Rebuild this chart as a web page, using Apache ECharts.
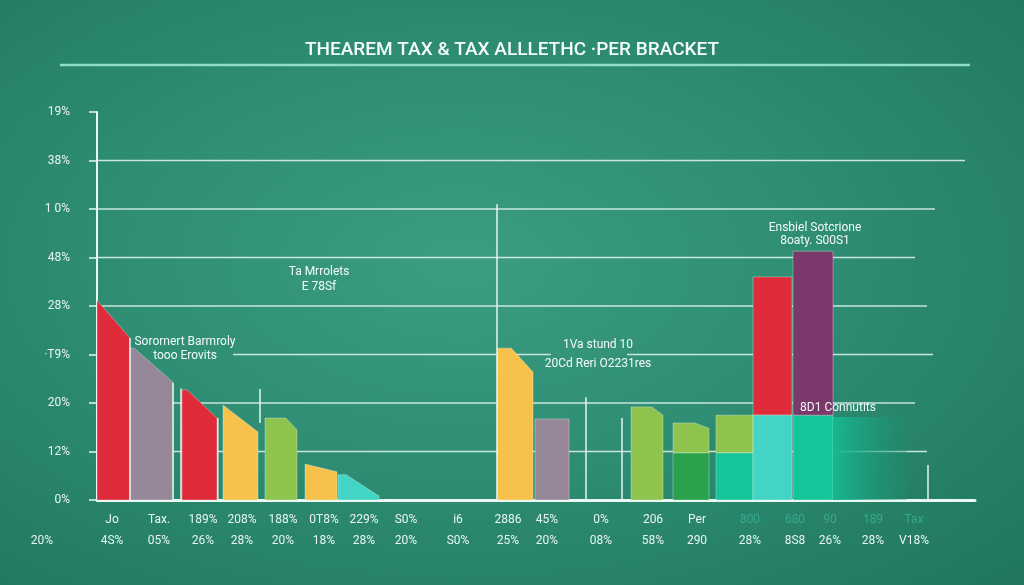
<!DOCTYPE html>
<html>
<head>
<meta charset="utf-8">
<script src="https://cdn.jsdelivr.net/npm/echarts@6/dist/echarts.min.js"></script>
<style>
html, body { margin: 0; padding: 0; }
#chart {
    width: 1024px;
    height: 585px;
    background: radial-gradient(ellipse at 45% 45%, #3c9d83 0%, #2e8d73 45%, #1f765d 100%);
}
</style>
</head>
<body>
<div id="chart"></div>
<script>
// bar tuples: [xStart, xEnd, base, topLeft, topRight, knee]
var redBars = [[0, 0.825, 0, 4.12, 3.34, 0], [2.125, 3.0, 0, 2.27, 1.69, 0.15], [16.4, 17.375, 1.75, 4.6, 4.6, 0]];
var mauveBars = [[0.825, 1.9, 0, 3.13, 2.43, 0.1], [10.95, 11.8, 0, 1.67, 1.67, 0]];
var yellowBars = [[3.15, 4.025, 0, 1.96, 1.4, 0], [5.2, 6.0, 0, 0.74, 0.58, 0], [10.0, 10.9, 0, 3.13, 2.64, 0.4]];
var limeBars = [[4.2, 5.0, 0, 1.69, 1.45, 0.65], [13.35, 14.15, 0, 1.92, 1.75, 0.65], [14.4, 15.3, 0.97, 1.59, 1.48, 0.6], [15.475, 16.4, 0.97, 1.75, 1.75, 0]];
var greenBars = [[14.4, 15.3, 0, 0.97, 0.97, 0]];
var tealBars = [[15.475, 16.4, 0, 0.97, 0.97, 0], [17.4, 18.4, 0, 1.75, 1.75, 0]];
var aquaBars = [[6.025, 7.05, 0, 0.52, 0.08, 0.2], [16.4, 17.375, 0, 1.75, 1.75, 0]];
var plumBars = [[17.4, 18.4, 1.75, 5.13, 5.13, 0]];
var fadeBars = [[18.4, 20.25, 0, 1.71, 1.71, 0]];

// thin vertical guides: [x, bottom, top]
var guides = [[0.825, 0, 3.34], [1.9, 0, 2.41], [2.1, 0, 2.3], [3.02, 0, 1.69], [4.075, 1.59, 2.29], [10.0, 0, 6.1], [12.225, 0, 2.12], [13.125, 0, 1.69], [20.775, 0, 0.72]];

// horizontal rules: [level, from, to]
var rules = [[1, 0, 20.75], [2, 0, 20.45], [3, 0, 0.85], [3, 3.4, 11.35], [3, 13.25, 20.9], [4, 0, 20.75], [5, 0, 20.45], [6, 0, 20.95], [7, 0, 21.7]];

var yTickLabels = ['0%', '12%', '20%', '·T9%', '28%', '48%', '1 0%', '38%', '19%'];

var labelX = [0.375, 1.55, 2.65, 3.625, 4.65, 5.675, 6.675, 7.725, 9.025, 10.275, 11.25, 12.6, 13.9, 15.0, 16.325, 17.45, 18.325, 19.4, 20.425];
var labelTop = ['Jo', 'Tax.', '189%', '208%', '188%', '0T8%', '229%', 'S0%', 'i6', '2886', '45%', '0%', '206', 'Per', '800', '680', '90', '189', 'Tax'];
var labelBottom = ['4S%', '05%', '26%', '28%', '20%', '18%', '28%', '20%', 'S0%', '25%', '20%', '08%', '58%', '290', '28%', '8S8', '26%', '28%', 'V18%'];
var fadeFrom = 14;

var noteX = [5.55, 2.2, 12.525, 17.95, 18.525];
var noteY = [4.54, 3.12, 3.0, 5.47, 1.9];
var noteText = ['Ta Mrrolets\nE 78Sf', 'Sorornert Barmroly\ntooo Erovits', '1Va stund 10\n20Cd Reri O2231res', 'Ensbiel Sotcrione\n8oaty. S00S1', '8D1 Connutits'];
var noteGap = [15, 14, 19, 13, 14];

var chart = echarts.init(document.getElementById('chart'));

function drawBar(params, api) {
    var x0 = api.value(0), x1 = api.value(1), b = api.value(2);
    var tl = api.value(3), tr = api.value(4), k = api.value(5);
    var xk = x0 + (x1 - x0) * k;
    var pts = [[x0, b], [x0, tl], [xk, tl], [x1, tr], [x1, b]].map(function (p) { return api.coord(p); });
    return {
        type: 'polygon',
        shape: { points: pts },
        style: { fill: api.visual('color'), stroke: 'rgba(230,248,242,0.35)', lineWidth: 1 }
    };
}

function barSeries(name, data, color) {
    return {
        name: name,
        type: 'custom',
        renderItem: drawBar,
        data: data,
        encode: { x: [0, 1], y: [3] },
        itemStyle: { color: color },
        silent: true
    };
}

var textColor = '#e9f5f0';

var fade = barSeries('fade', fadeBars, new echarts.graphic.LinearGradient(0, 0, 1, 0, [
    { offset: 0, color: '#18b892' },
    { offset: 1, color: 'rgba(30,140,110,0.3)' }
]));
fade.renderItem = function (params, api) {
    var el = drawBar(params, api);
    el.style.stroke = null;
    return el;
};

var option = {
    animation: false,
    title: {
        text: 'THEAREM TAX & TAX ALLLETHC ·PER BRACKET',
        left: 'center',
        top: 36,
        textStyle: { color: '#f4fbf8', fontSize: 19, fontWeight: 500, fontFamily: 'Roboto' }
    },
    graphic: [{
        type: 'line',
        shape: { x1: 60, y1: 65, x2: 970, y2: 65 },
        style: { stroke: '#8fdcc8', lineWidth: 2.5 }
    }],
    grid: { left: 97, right: 49, top: 112, bottom: 85, outerBoundsMode: 'none' },
    xAxis: {
        type: 'value',
        min: 0,
        max: 21.95,
        axisLine: { show: true, lineStyle: { color: '#e8f7f1', width: 3 } },
        axisTick: { show: false },
        axisLabel: { show: false },
        splitLine: { show: false }
    },
    yAxis: {
        type: 'value',
        min: 0,
        max: 8,
        interval: 1,
        axisLine: { show: true, lineStyle: { color: '#e8f7f1', width: 2 } },
        axisTick: { show: true, length: 8, lineStyle: { color: '#e8f7f1', width: 1.5 } },
        axisLabel: {
            color: textColor,
            fontSize: 12,
            fontFamily: 'Roboto',
            margin: 27,
            formatter: function (v) { return yTickLabels[v]; }
        },
        splitLine: { show: false }
    },
    series: [
        {
            type: 'custom',
            silent: true,
            data: rules,
            encode: { x: [1, 2], y: [0] },
            renderItem: function (params, api) {
                var a = api.coord([api.value(1), api.value(0)]);
                var b = api.coord([api.value(2), api.value(0)]);
                return {
                    type: 'line',
                    shape: { x1: a[0], y1: a[1], x2: b[0], y2: b[1] },
                    style: { stroke: 'rgba(228,246,240,0.85)', lineWidth: 1.6 }
                };
            }
        },
        barSeries('red', redBars, '#df2b3a'),
        barSeries('mauve', mauveBars, '#978899'),
        barSeries('yellow', yellowBars, '#f6c24c'),
        barSeries('lime', limeBars, '#8ec44e'),
        barSeries('green', greenBars, '#2aa24c'),
        barSeries('teal', tealBars, '#16c49b'),
        barSeries('aqua', aquaBars, '#42d5c6'),
        barSeries('plum', plumBars, '#7b386b'),
        fade,
        {
            type: 'custom',
            silent: true,
            data: guides,
            encode: { x: [0], y: [1, 2] },
            renderItem: function (params, api) {
                var a = api.coord([api.value(0), api.value(1)]);
                var b = api.coord([api.value(0), api.value(2)]);
                return {
                    type: 'line',
                    shape: { x1: a[0], y1: a[1], x2: b[0], y2: b[1] },
                    style: { stroke: 'rgba(235,250,245,0.9)', lineWidth: 1.6 }
                };
            }
        },
        {
            type: 'custom',
            silent: true,
            clip: false,
            data: labelX.map(function (x, i) { return [x, i]; }),
            encode: { x: [0], y: [1] },
            renderItem: function (params, api) {
                var i = params.dataIndex;
                var p = api.coord([api.value(0), 0]);
                var faded = i >= fadeFrom;
                return {
                    type: 'group',
                    children: [{
                        type: 'text',
                        x: p[0], y: p[1] + 20,
                        style: {
                            text: labelTop[i], fill: faded ? 'rgba(70,200,168,0.55)' : textColor,
                            font: '12px Roboto', align: 'center', verticalAlign: 'middle',
                            textAlign: 'center', textVerticalAlign: 'middle'
                        }
                    }, {
                        type: 'text',
                        x: p[0], y: p[1] + 41,
                        style: {
                            text: labelBottom[i], fill: textColor,
                            font: '12px Roboto', align: 'center', verticalAlign: 'middle',
                            textAlign: 'center', textVerticalAlign: 'middle'
                        }
                    }]
                };
            }
        },
        {
            type: 'custom',
            silent: true,
            clip: false,
            data: [[-1.375, 0]],
            encode: { x: [0], y: [1] },
            renderItem: function (params, api) {
                var p = api.coord([api.value(0), 0]);
                return {
                    type: 'text',
                    x: p[0], y: p[1] + 41,
                    style: {
                        text: '20%', fill: textColor, font: '12px Roboto',
                        align: 'center', verticalAlign: 'middle',
                        textAlign: 'center', textVerticalAlign: 'middle'
                    }
                };
            }
        },
        {
            type: 'custom',
            silent: true,
            clip: false,
            data: noteX.map(function (x, i) { return [x, noteY[i]]; }),
            encode: { x: [0], y: [1] },
            renderItem: function (params, api) {
                var i = params.dataIndex;
                var p = api.coord([api.value(0), api.value(1)]);
                return {
                    type: 'text',
                    x: p[0], y: p[1],
                    style: {
                        text: noteText[i], fill: '#f2faf7', font: '12px Roboto',
                        lineHeight: noteGap[i], align: 'center', verticalAlign: 'middle',
                        textAlign: 'center', textVerticalAlign: 'middle'
                    }
                };
            }
        }
    ]
};

chart.setOption(option);
</script>
</body>
</html>
